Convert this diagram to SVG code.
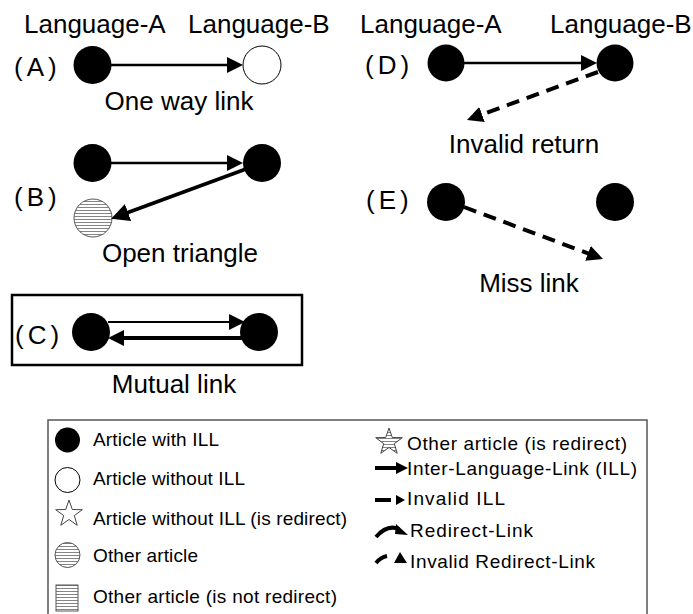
<svg xmlns="http://www.w3.org/2000/svg" width="693" height="614" viewBox="0 0 693 614">
  <style>
    .lbl { font-family: "Liberation Sans", Arial, sans-serif; font-size: 26px; fill: #000; }
    .mid { text-anchor: middle; }
    .tag { font-family: "Liberation Sans", Arial, sans-serif; font-size: 26px; letter-spacing: 4px; fill: #000; }
    .leg { font-family: "Liberation Sans", Arial, sans-serif; font-size: 19px; fill: #000; }
    .art { fill: #000; }
    .noill { fill: #fff; stroke: #000; stroke-width: 1; }
    .other { fill: url(#stripes); stroke: #555; stroke-width: 1; }
    .link { fill: none; stroke: #000; }
    .dash { fill: none; stroke: #000; stroke-width: 4; stroke-dasharray: 13 8; }
  </style>
  <defs>
    <pattern id="stripes" patternUnits="userSpaceOnUse" width="6" height="3">
      <rect width="6" height="3" fill="#fff"/>
      <line x1="0" y1="0.5" x2="6" y2="0.5" stroke="#666" stroke-width="0.8"/>
    </pattern>
    <marker id="head" viewBox="0 0 16 16" refX="3" refY="8" markerWidth="16" markerHeight="16" markerUnits="userSpaceOnUse" orient="auto">
      <path d="M0,0 L16,8 L0,16 Z" fill="#000"/>
    </marker>
    <marker id="headBig" viewBox="0 0 18 18" refX="3" refY="9" markerWidth="18" markerHeight="18" markerUnits="userSpaceOnUse" orient="auto">
      <path d="M0,0 L18,9 L0,18 Z" fill="#000"/>
    </marker>
  </defs>

  <!-- Column titles -->
  <g id="titles">
    <text class="lbl" x="24" y="33">Language-A</text>
    <text class="lbl" x="188" y="33">Language-B</text>
    <text class="lbl" x="360" y="33">Language-A</text>
    <text class="lbl" x="550" y="33">Language-B</text>
  </g>

  <!-- Case A -->
  <g id="caseA">
    <text class="tag" x="14" y="76">(A)</text>
    <g id="A1"><circle class="art" cx="92.5" cy="65" r="19"/></g>
    <g id="A2"><circle class="noill" cx="262" cy="65" r="19"/></g>
    <text class="lbl mid" x="179" y="110">One way link</text>
  </g>

  <!-- Case B -->
  <g id="caseB">
    <text class="tag" x="14" y="206">(B)</text>
    <g id="B1"><circle class="art" cx="92.5" cy="163" r="19"/></g>
    <g id="B2"><circle class="art" cx="262" cy="163" r="19"/></g>
    <g id="B3"><circle class="other" cx="93" cy="218" r="19"/></g>
    <text class="lbl mid" x="180" y="262">Open triangle</text>
  </g>

  <!-- Case C -->
  <g id="caseC">
    <rect x="12" y="295" width="290" height="70" fill="none" stroke="#000" stroke-width="2.5"/>
    <text class="tag" x="15" y="344">(C)</text>
    <g id="C1"><circle class="art" cx="91" cy="332" r="19"/></g>
    <g id="C2"><circle class="art" cx="259" cy="332" r="19"/></g>
    <text class="lbl mid" x="174" y="393">Mutual link</text>
  </g>

  <!-- Case D -->
  <g id="caseD">
    <text class="tag" x="365" y="74">(D)</text>
    <g id="D1"><circle class="art" cx="446" cy="63" r="18.5"/></g>
    <g id="D2"><circle class="art" cx="615" cy="63" r="18.5"/></g>
    <text class="lbl mid" x="524" y="153">Invalid return</text>
  </g>

  <!-- Case E -->
  <g id="caseE">
    <text class="tag" x="366" y="209">(E)</text>
    <g id="E1"><circle class="art" cx="446" cy="202" r="19"/></g>
    <g id="E2"><circle class="art" cx="615" cy="202" r="19"/></g>
    <text class="lbl mid" x="529" y="292">Miss link</text>
  </g>

  <!-- Connectors -->
  <g id="connectors">
    <line class="link" stroke-width="2.5" x1="111" y1="65" x2="230" y2="65" marker-end="url(#head)"/>
    <line class="link" stroke-width="2.5" x1="111" y1="163" x2="230" y2="163" marker-end="url(#head)"/>
    <line class="link" stroke-width="3.5" x1="246" y1="169" x2="125.2" y2="213.5" marker-end="url(#headBig)"/>
    <line class="link" stroke-width="2.2" x1="108" y1="322" x2="232" y2="322" marker-end="url(#head)"/>
    <line class="link" stroke-width="4" x1="243" y1="338" x2="121" y2="338" marker-end="url(#head)"/>
    <line class="link" stroke-width="2.5" x1="464" y1="63" x2="584" y2="63" marker-end="url(#head)"/>
    <line class="dash" x1="598" y1="72" x2="479.2" y2="115.5" marker-end="url(#head)"/>
    <line class="dash" x1="464" y1="207" x2="590.8" y2="254.4" marker-end="url(#head)"/>
  </g>

  <!-- Legend -->
  <g id="legend">
    <rect x="48" y="420" width="599" height="200" fill="none" stroke="#555" stroke-width="1.5"/>
    <g id="leg-with-ill">
      <circle class="art" cx="67.5" cy="440" r="12.5"/>
      <text class="leg" x="93" y="446" textLength="126">Article with ILL</text>
    </g>
    <g id="leg-without-ill">
      <circle class="noill" cx="67.5" cy="480" r="12.5"/>
      <text class="leg" x="93" y="485" textLength="152">Article without ILL</text>
    </g>
    <g id="leg-without-ill-redirect">
      <polygon points="69,500 72.3,509.5 82.3,509.7 74.3,515.6 77.2,525.3 69,519.5 60.8,525.3 63.7,515.6 55.7,509.7 65.7,509.5" fill="#fff" stroke="#444" stroke-width="1"/>
      <text class="leg" x="93" y="525" textLength="254">Article without ILL (is redirect)</text>
    </g>
    <g id="leg-other">
      <circle class="other" cx="67.5" cy="555" r="12.5"/>
      <text class="leg" x="93" y="562" textLength="105">Other article</text>
    </g>
    <g id="leg-other-not-redirect">
      <rect x="56" y="585" width="22" height="26" fill="url(#stripes)" stroke="#555" stroke-width="1"/>
      <text class="leg" x="93" y="603" textLength="244">Other article (is not redirect)</text>
    </g>
    <g id="leg-other-redirect">
      <polygon points="389,428 392.3,437.5 402.3,437.7 394.3,443.6 397.2,453.3 389,447.5 380.8,453.3 383.7,443.6 375.7,437.7 385.7,437.5" fill="url(#stripes)" stroke="#444" stroke-width="1"/>
      <text class="leg" x="407" y="450" textLength="220">Other article (is redirect)</text>
    </g>
    <g id="leg-ill">
      <line x1="375" y1="468" x2="398" y2="468" stroke="#000" stroke-width="4"/>
      <polygon points="396,462 408,468 396,474" fill="#000"/>
      <text class="leg" x="407" y="475" textLength="230">Inter-Language-Link (ILL)</text>
    </g>
    <g id="leg-invalid-ill">
      <line x1="375" y1="500" x2="391" y2="500" stroke="#000" stroke-width="4"/>
      <polygon points="396,495 405,500 396,505" fill="#000"/>
      <text class="leg" x="407" y="505" textLength="98">Invalid ILL</text>
    </g>
    <g id="leg-redirect">
      <path d="M376,537 Q387,524 399,529" fill="none" stroke="#000" stroke-width="4"/>
      <polygon points="396,524 408,535 395,534" fill="#000"/>
      <text class="leg" x="410" y="537" textLength="123">Redirect-Link</text>
    </g>
    <g id="leg-invalid-redirect">
      <path d="M376,563 Q381,557 387,556" fill="none" stroke="#000" stroke-width="4"/>
      <polygon points="394,563 400,552 407,563" fill="#000"/>
      <text class="leg" x="410" y="568" textLength="185">Invalid Redirect-Link</text>
    </g>
  </g>
</svg>
